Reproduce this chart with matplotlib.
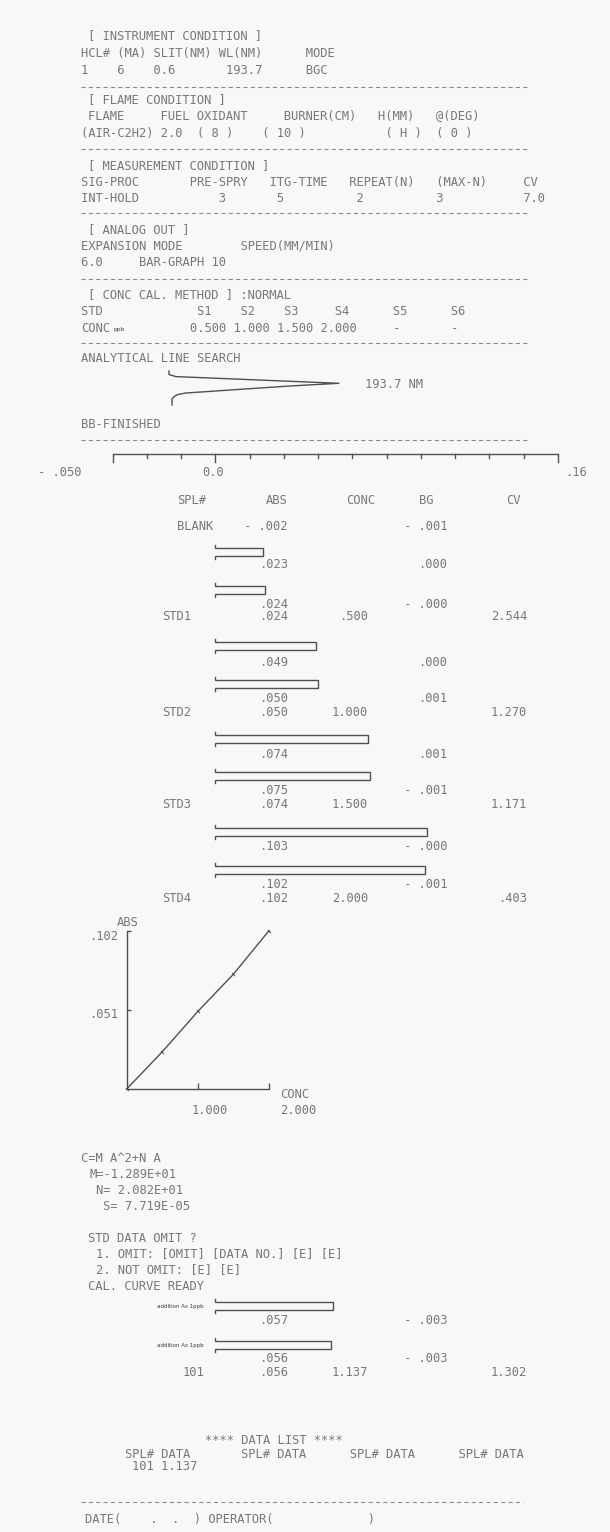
import math
import matplotlib
matplotlib.use("Agg")
import matplotlib.pyplot as plt

plt.rcParams['lines.scale_dashes'] = False

# ---------------- data ----------------
instrument = {"hcl": "1", "ma": "6", "slit": "0.6", "wl": "193.7", "mode": "BGC"}
std_labels = ["S1", "S2", "S3", "S4", "S5", "S6"]
std_conc_set = ["0.500", "1.000", "1.500", "2.000", "-", "-"]

col_headers = ["SPL#", "ABS", "CONC", "BG", "CV"]
blank_abs = -0.002
blank_bg = -0.001
rep_abs = [0.023, 0.024, 0.049, 0.050, 0.074, 0.075, 0.103, 0.102]
rep_bg = [0.000, -0.000, 0.000, 0.001, 0.001, -0.001, -0.000, -0.001]
std_names = ["STD1", "STD2", "STD3", "STD4"]
std_abs = [0.024, 0.050, 0.074, 0.102]
std_conc = [0.500, 1.000, 1.500, 2.000]
std_cv = [2.544, 1.270, 1.171, 0.403]

cal_conc = [0.0, 0.5, 1.0, 1.5, 2.0]
cal_abs = [0.0, 0.024, 0.050, 0.074, 0.102]
cal_yticks = [0.051, 0.102]
cal_xticks = [1.0, 2.0]

sample_rep_abs = [0.057, 0.056]
sample_rep_bg = [-0.003, -0.003]
sample_name = "101"
sample_abs = 0.056
sample_conc = 1.137
sample_cv = 1.302

ruler_min, ruler_max, ruler_step = -0.05, -0.05 + 13 / 60, 1 / 60

peak_signal = [0.0, 0.0, 0.02, 0.04, 1.0, 0.71, 0.10, 0.05, 0.03, 0.018, 0.018]
peak_rows = [371, 374.5, 375.5, 376.6, 383.3, 386, 393, 394.6, 396.6, 399, 405]

# ---------------- layout / style ----------------
W, H = 610, 1532
TXT = "#787878"
INK = "#505050"
MONO = "DejaVu Sans Mono"
FS = 8.7
P = 7.3
X0 = 81

fig = plt.figure(figsize=(W / 100, H / 100), dpi=100)
fig.patch.set_facecolor("#f8f8f7")
ax = fig.add_axes([0, 0, 1, 1])
ax.set_xlim(0, W)
ax.set_ylim(H, 0)
ax.axis("off")


def fmt(v, nd=3):
    neg = math.copysign(1, v) < 0
    s = f"{abs(v):.{nd}f}"
    if s.startswith("0."):
        s = s[1:]
    return ("- " if neg else "") + s


def line(cells, y, x0=X0):
    s = ""
    for col, tok in cells:
        if len(s) < col:
            s += " " * (col - len(s))
        elif s:
            s += " "
        s += tok
    lead = len(s) - len(s.lstrip(" "))
    ax.text(x0 + lead * P, y, s.strip(" "), family=MONO, fontsize=FS, color=TXT,
            va="center", ha="left")


def txt(x, y, s, ha="left", **kw):
    ax.text(x, y, s, family=MONO, fontsize=FS, color=TXT, va="center", ha=ha, **kw)


def dashes(y, x0=81, x1=530):
    ax.plot([x0, x1], [y, y], color="#8a8a8a", lw=0.8, dashes=(3.0, 2.3), solid_capstyle="butt")


# ---------------- header text ----------------
line([(1, "[ INSTRUMENT CONDITION ]")], 35.5)
line([(0, "HCL#"), (5, "(MA)"), (10, "SLIT(NM)"), (19, "WL(NM)"), (31, "MODE")], 53)
line([(0, instrument["hcl"]), (5, instrument["ma"]), (10, instrument["slit"]),
      (20, instrument["wl"]), (31, instrument["mode"])], 70)
dashes(86.5)
line([(1, "[ FLAME CONDITION ]")], 100)
line([(1, "FLAME"), (11, "FUEL"), (16, "OXIDANT"), (28, "BURNER(CM)"), (41, "H(MM)"), (49, "@(DEG)")], 115.5)
line([(0, "(AIR-C2H2)"), (11, "2.0"), (16, "( 8 )"), (25, "( 10 )"), (42, "( H )"), (49, "( 0 )")], 133)
dashes(149)
line([(1, "[ MEASUREMENT CONDITION ]")], 166)
line([(0, "SIG-PROC"), (15, "PRE-SPRY"), (26, "ITG-TIME"), (37, "REPEAT(N)"), (49, "(MAX-N)"), (61, "CV")], 182.5)
line([(0, "INT-HOLD"), (19, "3"), (27, "5"), (38, "2"), (49, "3"), (61, "7.0")], 198)
dashes(213)
line([(1, "[ ANALOG OUT ]")], 229.5)
line([(0, "EXPANSION MODE"), (22, "SPEED(MM/MIN)")], 246)
line([(0, "6.0"), (8, "BAR-GRAPH 10")], 262.5)
dashes(278.5)
line([(1, "[ CONC CAL. METHOD ] :NORMAL")], 295)
cols = [16, 22, 28, 35, 43, 51]
line([(0, "STD")] + list(zip(cols, std_labels)), 311.5)
vcols = [15, 21, 27, 33, 43, 51]
line([(0, "CONC")], 328)
line(list(zip(vcols, std_conc_set)), 328)
ax.text(114, 329, "ppb", family="DejaVu Sans", fontsize=4.3, color="#3a3a3a", va="center")
dashes(343)
line([(0, "ANALYTICAL LINE SEARCH")], 358)
txt(365, 384, "193.7 NM")
line([(0, "BB-FINISHED")], 424)
dashes(440)

# ---------------- peak trace ----------------
pk = fig.add_axes([169 / W, 0, 170 / W, 1])
pk.set_xlim(0, 1)
pk.set_ylim(H, 0)
pk.axis("off")
pk.plot(peak_signal, peak_rows, color=INK, lw=1.0, clip_on=False)

# ---------------- bar-graph ruler and bars ----------------
bx = fig.add_axes([112.6 / W, 0, (558 - 112.6) / W, 1])
bx.set_xlim(ruler_min, ruler_max)
bx.set_ylim(H, 0)
bx.axis("off")
RY = 454
bx.plot([ruler_min, ruler_max], [RY, RY], color=INK, lw=1.0, clip_on=False)
nt = int(round((ruler_max - ruler_min) / ruler_step))
for k in range(nt + 1):
    xv = ruler_min + k * ruler_step
    ln = 8 if k in (0, 3, nt) else 4
    bx.plot([xv, xv], [RY, RY + ln], color=INK, lw=1.0, clip_on=False)
txt(82, 473, fmt(ruler_min), ha="right")
txt(202, 473, "0.0")
txt(565, 473, ".16")

BH = 7.5


def draw_bar(v, top):
    bx.plot([0, 0, v, v, 0, 0], [top - 3, top, top, top + BH, top + BH, top + BH + 3],
            color=INK, lw=1.0, clip_on=False, solid_joinstyle="miter")


C_ABS, C_CONC, C_BG, C_CV = 288, 368, 447, 527
txt(177, 501, col_headers[0])
txt(C_ABS, 501, col_headers[1], ha="right")
txt(375, 501, col_headers[2], ha="right")
txt(434, 501, col_headers[3], ha="right")
txt(521, 501, col_headers[4], ha="right")

txt(177, 526, "BLANK")
txt(C_ABS, 526, fmt(blank_abs), ha="right")
txt(C_BG, 526, fmt(blank_bg), ha="right")

bar_tops = [548, 586, 642, 680, 735, 772, 828, 866]
val_rows = [565, 604, 662, 698, 754, 791, 846, 885]
mean_rows = [617, 712, 805, 899]
for v, bg, top, yr in zip(rep_abs, rep_bg, bar_tops, val_rows):
    draw_bar(v, top)
    txt(C_ABS, yr, fmt(v), ha="right")
    txt(C_BG, yr, fmt(bg), ha="right")
for name, a, c, cv, yr in zip(std_names, std_abs, std_conc, std_cv, mean_rows):
    txt(162, yr, name)
    txt(C_ABS, yr, fmt(a), ha="right")
    txt(C_CONC, yr, fmt(c), ha="right")
    txt(C_CV, yr, fmt(cv), ha="right")

# ---------------- calibration graph ----------------
GX0, GX1, GY0, GY1 = 126.7, 269.0, 1089.0, 930.7
gx = fig.add_axes([GX0 / W, 1 - GY0 / H, (GX1 - GX0) / W, (GY0 - GY1) / H])
gx.set_xlim(0, 2.0)
gx.set_ylim(0, 0.102)
gx.patch.set_alpha(0)
for s in ("top", "right"):
    gx.spines[s].set_visible(False)
for s in ("left", "bottom"):
    gx.spines[s].set_color(INK)
    gx.spines[s].set_linewidth(1.0)
gx.set_xticks(cal_xticks)
gx.set_yticks(cal_yticks)
gx.tick_params(axis="x", direction="in", length=4.3, width=1.0, color=INK, labelbottom=False)
gx.tick_params(axis="y", direction="in", length=3.0, width=1.0, color=INK, labelleft=False)
gx.plot(cal_conc, cal_abs, color=INK, lw=1.0, clip_on=False,
        marker=(2, 0, 45), markersize=3, markeredgewidth=0.8)
txt(128, 923, "ABS", ha="center")
txt(118, 936, fmt(cal_yticks[1]), ha="right")
txt(118, 1015, fmt(cal_yticks[0]), ha="right")
txt(280, 1094, "CONC")
txt(192, 1111, f"{cal_xticks[0]:.3f}")
txt(280, 1111, f"{cal_xticks[1]:.3f}")

# ---------------- equation / prompts ----------------
txt(81, 1158, "C=M A^2+N A")
txt(89, 1175, "M=-1.289E+01")
txt(96, 1191, "N= 2.082E+01")
txt(103, 1207, "S= 7.719E-05")
txt(88, 1238, "STD DATA OMIT ?")
txt(96, 1254, "1. OMIT: [OMIT] [DATA NO.] [E] [E]")
txt(96, 1270, "2. NOT OMIT: [E] [E]")
txt(88, 1286, "CAL. CURVE READY")

s_tops = [1302, 1341]
s_rows = [1320, 1359]
for v, bg, top, yr in zip(sample_rep_abs, sample_rep_bg, s_tops, s_rows):
    draw_bar(v, top)
    ax.text(204, top + BH / 2 + 1, "addition As 1ppb", family="DejaVu Sans", fontsize=4.0,
            color="#3a3a3a", va="center", ha="right")
    txt(C_ABS, yr, fmt(v), ha="right")
    txt(C_BG, yr, fmt(bg), ha="right")
txt(183, 1373, sample_name)
txt(C_ABS, 1373, fmt(sample_abs), ha="right")
txt(C_CONC, 1373, fmt(sample_conc), ha="right")
txt(C_CV, 1373, fmt(sample_cv), ha="right")

# ---------------- data list ----------------
line([(11, "**** DATA LIST ****")], 1441, x0=125)
line([(0, "SPL#"), (5, "DATA"), (16, "SPL#"), (21, "DATA"), (31, "SPL#"), (36, "DATA"),
      (46, "SPL#"), (51, "DATA")], 1455, x0=125)
line([(1, sample_name), (5, f"{sample_conc:.3f}")], 1467, x0=125)
dashes(1502, 81, 523)
line([(0, "DATE("), (9, "."), (12, "."), (15, ")"), (17, "OPERATOR("), (39, ")")], 1519, x0=85)

fig.savefig("out.png", dpi=100, facecolor=fig.get_facecolor())
